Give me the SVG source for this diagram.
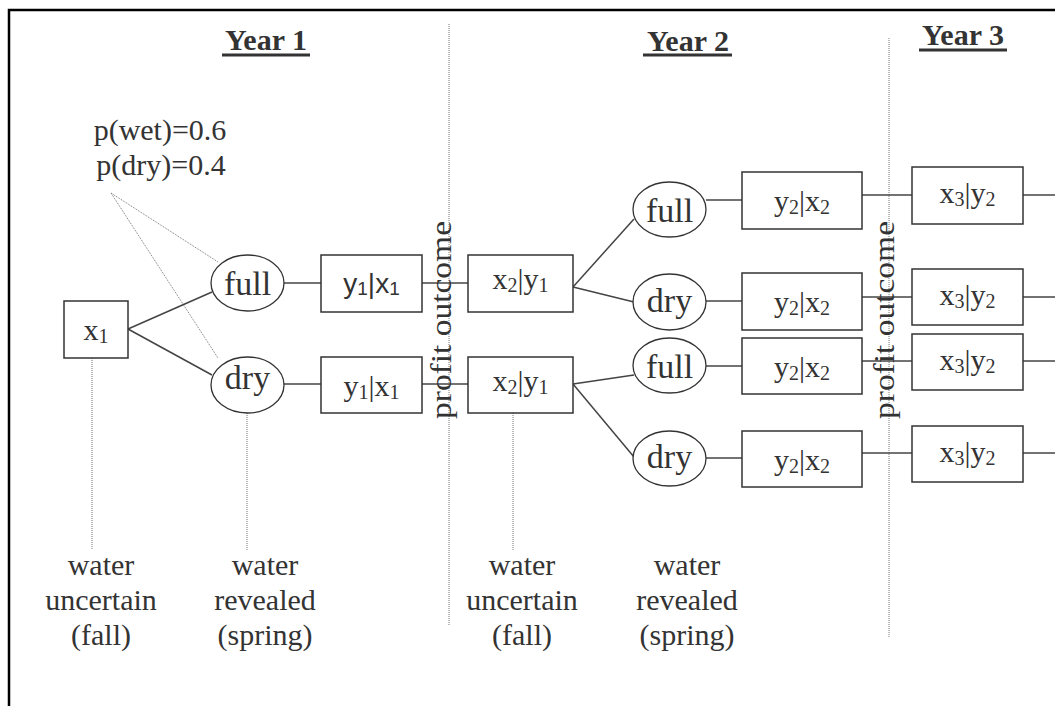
<svg xmlns="http://www.w3.org/2000/svg" width="1055" height="706" viewBox="0 0 1055 706">
<style>
.t{font-family:"Liberation Serif","Times New Roman",serif;font-size:30px;fill:#333;text-anchor:middle}
.s{font-family:"Liberation Sans",Arial,sans-serif;font-size:28px;fill:#333;text-anchor:middle}
.e{font-size:34px}
.h{font-family:"Liberation Serif","Times New Roman",serif;font-size:30px;font-weight:bold;fill:#333;text-anchor:middle}
.ul{stroke:#333;stroke-width:3}
.box{fill:#fff;stroke:#333;stroke-width:1.5}
.ell{fill:#fff;stroke:#333;stroke-width:1.3}
.c{stroke:#444;stroke-width:1.5;fill:none}
.d{stroke:#777;stroke-width:1;stroke-dasharray:1 1;fill:none}
</style>
<rect width="1055" height="706" fill="#fff"/>
<path d="M9,706 V10 H1055" fill="none" stroke="#000" stroke-width="2.5"/>

<g id="headers">
<text class="h" x="266" y="50">Year 1</text><line class="ul" x1="222" y1="55" x2="310" y2="55"/>
<text class="h" x="688" y="51">Year 2</text><line class="ul" x1="643" y1="55" x2="732" y2="55"/>
<text class="h" x="963" y="45">Year 3</text><line class="ul" x1="919" y1="50" x2="1007" y2="50"/>
</g>

<g id="dotted">
<line class="d" x1="111" y1="193" x2="218" y2="262"/>
<line class="d" x1="111" y1="193" x2="218" y2="358"/>
<line class="d" x1="92" y1="358" x2="92" y2="550"/>
<line class="d" x1="247" y1="413" x2="247" y2="550"/>
<line class="d" x1="513" y1="413" x2="513" y2="550"/>
<line class="d" x1="449" y1="24" x2="449" y2="625"/>
<line class="d" x1="889" y1="38" x2="889" y2="637"/>
</g>

<g id="connectors">
<line class="c" x1="128" y1="329" x2="212" y2="292"/>
<line class="c" x1="128" y1="329" x2="212" y2="375"/>
<line class="c" x1="284" y1="283" x2="321" y2="283"/>
<line class="c" x1="284" y1="384" x2="321" y2="384"/>
<line class="c" x1="422" y1="283" x2="468" y2="283"/>
<line class="c" x1="422" y1="384" x2="468" y2="384"/>
<line class="c" x1="573" y1="287" x2="634" y2="219"/>
<line class="c" x1="573" y1="287" x2="634" y2="302"/>
<line class="c" x1="573" y1="384" x2="634" y2="375"/>
<line class="c" x1="573" y1="384" x2="634" y2="457"/>
<line class="c" x1="706" y1="200" x2="742" y2="200"/>
<line class="c" x1="706" y1="301" x2="742" y2="301"/>
<line class="c" x1="706" y1="366" x2="742" y2="366"/>
<line class="c" x1="706" y1="458" x2="742" y2="458"/>
<line class="c" x1="862" y1="195" x2="912" y2="195"/>
<line class="c" x1="862" y1="297" x2="912" y2="297"/>
<line class="c" x1="862" y1="361" x2="912" y2="361"/>
<line class="c" x1="862" y1="453" x2="912" y2="453"/>
<line class="c" x1="1023" y1="195" x2="1055" y2="195"/>
<line class="c" x1="1023" y1="297" x2="1055" y2="297"/>
<line class="c" x1="1023" y1="361" x2="1055" y2="361"/>
<line class="c" x1="1023" y1="453" x2="1055" y2="453"/>
</g>

<g id="prob"><text class="t" x="160" y="140">p(wet)=0.6</text><text class="t" x="161" y="175">p(dry)=0.4</text></g>

<g id="x1"><rect class="box" x="64" y="301" width="64" height="57"/><text class="t" x="96" y="340">x<tspan font-size="20" dy="3">1</tspan></text></g>
<g id="full1"><ellipse class="ell" cx="247.5" cy="283" rx="36.5" ry="28"/><text class="t e" x="247.5" y="295">full</text></g>
<g id="dry1"><ellipse class="ell" cx="247.5" cy="385" rx="36.5" ry="28"/><text class="t e" x="247.5" y="389">dry</text></g>
<g id="y1x1a"><rect class="box" x="321" y="255" width="101" height="57"/><text class="s" x="371.5" y="293">y<tspan font-size="19" dy="2">1</tspan><tspan dy="-2">|x</tspan><tspan font-size="19" dy="2">1</tspan></text></g>
<g id="y1x1b"><rect class="box" x="321" y="357" width="101" height="56"/><text class="t" x="371.5" y="396">y<tspan font-size="20" dy="3">1</tspan><tspan dy="-3">|x</tspan><tspan font-size="20" dy="3">1</tspan></text></g>

<g id="x2y1a"><rect class="box" x="468" y="255" width="105" height="57"/><text class="t" x="520.5" y="289">x<tspan font-size="20" dy="3">2</tspan><tspan dy="-3">|y</tspan><tspan font-size="20" dy="3">1</tspan></text></g>
<g id="x2y1b"><rect class="box" x="468" y="357" width="105" height="56"/><text class="t" x="520.5" y="391">x<tspan font-size="20" dy="3">2</tspan><tspan dy="-3">|y</tspan><tspan font-size="20" dy="3">1</tspan></text></g>

<g id="full2"><ellipse class="ell" cx="669.5" cy="209.5" rx="36.5" ry="27.5"/><text class="t e" x="669.5" y="222">full</text></g>
<g id="dry2"><ellipse class="ell" cx="669.5" cy="302" rx="36.5" ry="28"/><text class="t e" x="669.5" y="312">dry</text></g>
<g id="full3"><ellipse class="ell" cx="669.5" cy="365.5" rx="36.5" ry="27.5"/><text class="t e" x="669.5" y="378">full</text></g>
<g id="dry3"><ellipse class="ell" cx="669.5" cy="458.5" rx="36.5" ry="27.5"/><text class="t e" x="669.5" y="468">dry</text></g>

<g id="y2x2a"><rect class="box" x="742" y="172" width="120" height="57"/><text class="t" x="802" y="211">y<tspan font-size="20" dy="3">2</tspan><tspan dy="-3">|x</tspan><tspan font-size="20" dy="3">2</tspan></text></g>
<g id="y2x2b"><rect class="box" x="742" y="273" width="120" height="57"/><text class="t" x="802" y="312">y<tspan font-size="20" dy="3">2</tspan><tspan dy="-3">|x</tspan><tspan font-size="20" dy="3">2</tspan></text></g>
<g id="y2x2c"><rect class="box" x="742" y="338" width="120" height="56"/><text class="t" x="802" y="377">y<tspan font-size="20" dy="3">2</tspan><tspan dy="-3">|x</tspan><tspan font-size="20" dy="3">2</tspan></text></g>
<g id="y2x2d"><rect class="box" x="742" y="431" width="120" height="56"/><text class="t" x="802" y="470">y<tspan font-size="20" dy="3">2</tspan><tspan dy="-3">|x</tspan><tspan font-size="20" dy="3">2</tspan></text></g>

<g id="x3y2a"><rect class="box" x="912" y="167" width="111" height="57"/><text class="t" x="967.5" y="203">x<tspan font-size="20" dy="3">3</tspan><tspan dy="-3">|y</tspan><tspan font-size="20" dy="3">2</tspan></text></g>
<g id="x3y2b"><rect class="box" x="912" y="269" width="111" height="56"/><text class="t" x="967.5" y="305">x<tspan font-size="20" dy="3">3</tspan><tspan dy="-3">|y</tspan><tspan font-size="20" dy="3">2</tspan></text></g>
<g id="x3y2c"><rect class="box" x="912" y="334" width="111" height="56"/><text class="t" x="967.5" y="370">x<tspan font-size="20" dy="3">3</tspan><tspan dy="-3">|y</tspan><tspan font-size="20" dy="3">2</tspan></text></g>
<g id="x3y2d"><rect class="box" x="912" y="426" width="111" height="56"/><text class="t" x="967.5" y="462">x<tspan font-size="20" dy="3">3</tspan><tspan dy="-3">|y</tspan><tspan font-size="20" dy="3">2</tspan></text></g>

<g id="profit">
<text class="t" transform="translate(451 320) rotate(-90)" x="0" y="0" textLength="198" lengthAdjust="spacingAndGlyphs">profit outcome</text>
<text class="t" transform="translate(894 320) rotate(-90)" x="0" y="0" textLength="198" lengthAdjust="spacingAndGlyphs">profit outcome</text>
</g>

<g id="notes">
<text class="t" x="101" y="575">water</text><text class="t" x="101" y="610">uncertain</text><text class="t" x="101" y="645">(fall)</text>
<text class="t" x="265" y="575">water</text><text class="t" x="265" y="610">revealed</text><text class="t" x="265" y="645">(spring)</text>
<text class="t" x="522" y="575">water</text><text class="t" x="522" y="610">uncertain</text><text class="t" x="522" y="645">(fall)</text>
<text class="t" x="687" y="575">water</text><text class="t" x="687" y="610">revealed</text><text class="t" x="687" y="645">(spring)</text>
</g>
</svg>
